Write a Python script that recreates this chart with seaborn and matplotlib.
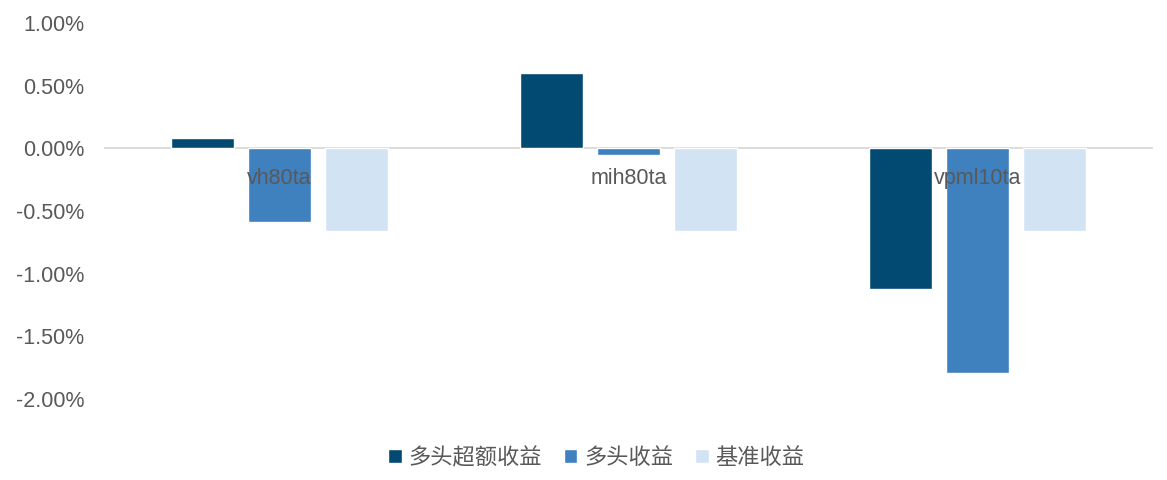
import matplotlib
matplotlib.use("Agg")
import matplotlib.pyplot as plt
import seaborn as sns
import pandas as pd
from matplotlib.ticker import FuncFormatter, FixedLocator

categories = ["vh80ta", "mih80ta", "vpml10ta"]
series_names = ["多头超额收益", "多头收益", "基准收益"]
excess_ret = [0.08, 0.60, -1.12]
long_ret = [-0.59, -0.05, -1.79]
bench_ret = [-0.66, -0.66, -0.66]
yticks = [-2.0, -1.5, -1.0, -0.5, 0.0, 0.5, 1.0]

colors = ["#034a72", "#3f80bf", "#d2e4f3"]
gray = "#595959"

rows = []
for name, vals in zip(series_names, [excess_ret, long_ret, bench_ret]):
    for c, v in zip(categories, vals):
        rows.append({"cat": c, "series": name, "val": v})
df = pd.DataFrame(rows)

sns.set_style("white")
plt.rcParams["font.family"] = ["Liberation Sans", "Noto Sans CJK SC", "DejaVu Sans"]

fig = plt.figure(figsize=(11.67, 4.8), dpi=100)
ax = fig.add_axes([105 / 1167, 1 - 399 / 480, (1152 - 105) / 1167, (399 - 23) / 480])

sns.barplot(data=df, x="cat", y="val", hue="series", order=categories,
            hue_order=series_names, palette=colors, width=0.662, gap=0.17,
            saturation=1, ax=ax, errorbar=None)

for p in ax.patches:
    p.set_zorder(0.5)
ax.set_axisbelow(False)

ax.set_ylim(-2.0, 1.0)
ax.set_xlim(-0.5, 2.5)
ax.set_xlabel("")
ax.set_ylabel("")
ax.yaxis.set_major_locator(FixedLocator(yticks))
ax.yaxis.set_major_formatter(FuncFormatter(lambda v, p: f"{v:.2f}%"))

for s in ["top", "right", "left"]:
    ax.spines[s].set_visible(False)
ax.spines["bottom"].set_position(("data", 0))
ax.spines["bottom"].set_color("#d9d9d9")
ax.spines["bottom"].set_linewidth(1.3)
ax.spines["bottom"].set_zorder(0.4)

ax.tick_params(axis="y", length=0, pad=15, labelsize=15.5, labelcolor=gray)
ax.tick_params(axis="x", which="major", length=0, pad=14, labelsize=15.5, labelcolor=gray)
ax.set_xticks([-0.5, 0.5, 1.5, 2.5], minor=True)
ax.tick_params(axis="x", which="minor", direction="in", length=5, width=1.0, color="#d9d9d9")

handles, labels = ax.get_legend_handles_labels()
if ax.get_legend() is not None:
    ax.get_legend().remove()
fig.legend(handles, labels, loc="center", bbox_to_anchor=(0.511, 0.047), ncol=3,
           frameon=False, handlelength=0.6, handleheight=0.6, handletextpad=0.3,
           columnspacing=1.0, prop={"family": ["Noto Sans CJK SC", "DejaVu Sans"], "size": 16},
           labelcolor=gray)

fig.savefig("out.png", dpi=100)
